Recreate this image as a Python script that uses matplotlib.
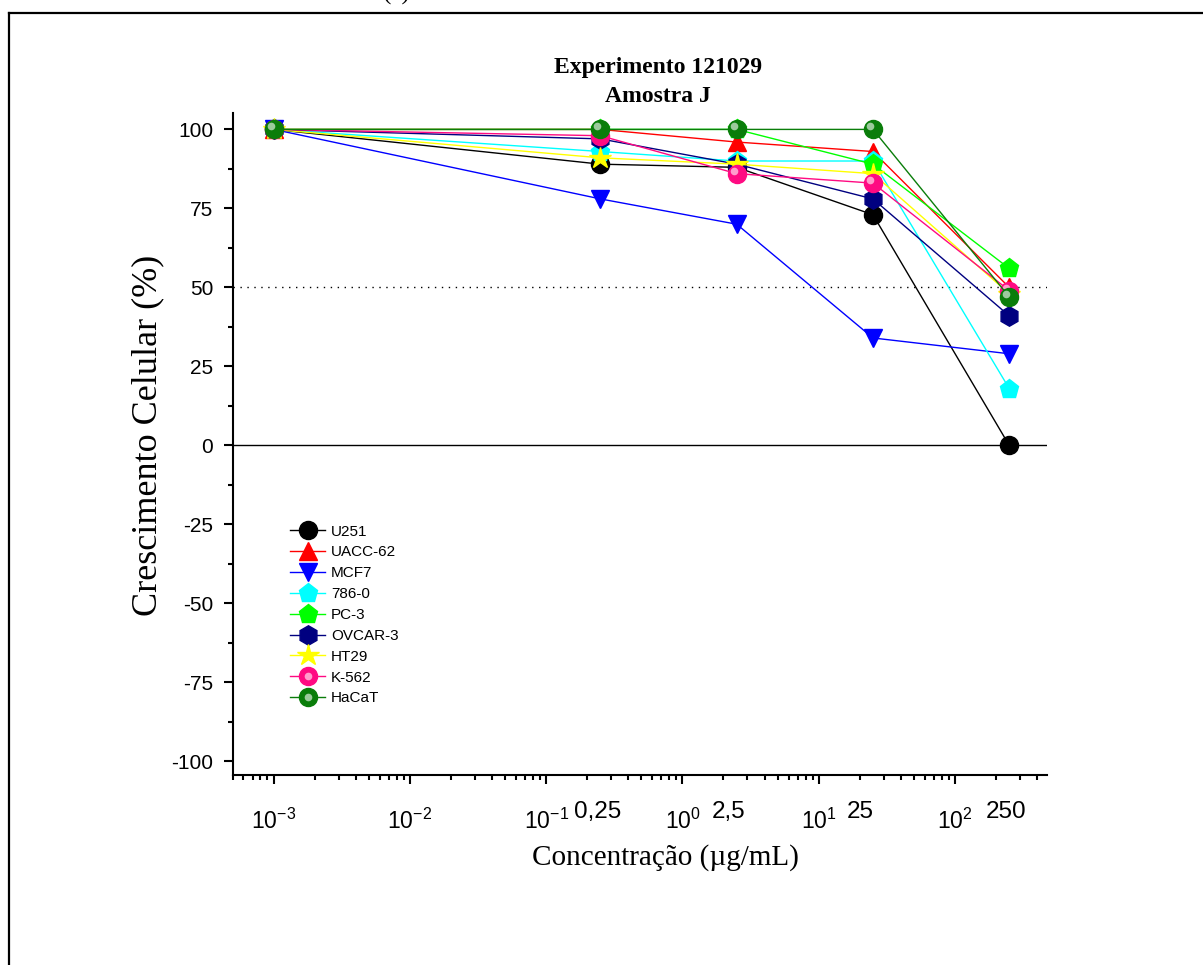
import numpy as np
import matplotlib as mpl
import matplotlib.pyplot as plt
from matplotlib import transforms
from matplotlib.lines import Line2D
from matplotlib.legend_handler import HandlerTuple
from matplotlib.ticker import LogLocator, MultipleLocator, NullFormatter

mpl.rcParams['font.family'] = ['Liberation Sans', 'DejaVu Sans']
mpl.rcParams['mathtext.fontset'] = 'custom'
mpl.rcParams['mathtext.rm'] = 'Liberation Sans'
mpl.rcParams['mathtext.it'] = 'Liberation Sans'
mpl.rcParams['mathtext.bf'] = 'Liberation Sans:bold'
mpl.rcParams['axes.unicode_minus'] = False

# concentrations (ug/mL) and growth (%) per cell line
conc = [0.001, 0.25, 2.5, 25, 250]
names = ['U251', 'UACC-62', 'MCF7', '786-0', 'PC-3', 'OVCAR-3', 'HT29', 'K-562', 'HaCaT']
u251   = [100, 89, 88, 73, 0]
uacc62 = [100, 100, 96, 93, 50]
mcf7   = [100, 78, 70, 34, 29]
c786   = [100, 93, 90, 90, 18]
pc3    = [100, 100, 100, 89, 56]
ovcar3 = [100, 97, 89, 78, 41]
ht29   = [100, 91, 89, 86, 48]
k562   = [100, 98, 86, 83, 49]
hacat  = [100, 100, 100, 100, 47]
series = [u251, uacc62, mcf7, c786, pc3, ovcar3, ht29, k562, hacat]

# labels written under the tested concentrations
conc_labels = ['0,25', '2,5', '25', '250']

colors  = ['black', 'red', 'blue', 'cyan', '#00ff00', '#000080', '#ffff00', '#ff0a82', '#0a7d0a']
markers = ['o', '^', 'v', 'p', 'p', 'h', '*', 'o', 'o']
msizes  = [13, 13, 13, 14, 14, 14, 16, 13, 13]
shiny   = [False, False, False, False, False, False, False, True, True]

fig = plt.figure(figsize=(12.03, 9.65), dpi=100)
ax = fig.add_axes([0.1934, 0.1969, 0.8703 - 0.1934, 0.8826 - 0.1969])

ax.axhline(0, color='black', lw=1, zorder=1)
ax.axhline(50, color='black', lw=1, ls=(0, (1, 4)), zorder=1)

hl = transforms.offset_copy(ax.transData, fig=fig, x=-3, y=3, units='dots')
handles = []
for vals, name, c, m, s, sh in zip(series, names, colors, markers, msizes, shiny):
    ln, = ax.plot(conc, vals, color=c, lw=1, marker=m, ms=s, mfc=c, mec=c,
                  label=name, clip_on=False, zorder=3)
    if sh:
        ax.plot(conc, vals, ls='none', marker='o', ms=5.5, mfc='white', mec='none',
                alpha=0.6, transform=hl, clip_on=False, zorder=3)
        glint = Line2D([], [], ls='none', marker='o', ms=5.5, mfc='white', mec='none', alpha=0.6)
        handles.append((ln, glint))
    else:
        handles.append(ln)

ax.set_xscale('log')
ax.set_xlim(5.0e-4, 473)
ax.set_ylim(-104.3, 105.1)
ax.set_yticks(np.arange(-100, 101, 25))
ax.yaxis.set_minor_locator(MultipleLocator(12.5))
ax.xaxis.set_major_locator(LogLocator(base=10, numticks=20))
ax.xaxis.set_minor_locator(LogLocator(base=10, subs=np.arange(2, 10), numticks=20))
ax.xaxis.set_minor_formatter(NullFormatter())

for side in ['top', 'right']:
    ax.spines[side].set_visible(False)
for side in ['left', 'bottom']:
    ax.spines[side].set_linewidth(1.5)
ax.tick_params(which='major', direction='out', length=6.5, width=1.5)
ax.tick_params(which='minor', direction='out', length=3.5, width=1.5)
ax.tick_params(axis='y', which='major', labelsize=15, pad=7.5)
ax.tick_params(axis='x', which='major', labelsize=16.5, pad=18)

shifts = [-3, -8, -13, -3]
for xv, lab, dx in zip(conc[1:], conc_labels, shifts):
    tr = transforms.offset_copy(ax.get_xaxis_transform(), fig=fig, x=dx, y=-2, units='dots')
    ax.text(xv, -0.036, lab, transform=tr, ha='center', va='top', fontsize=17.5)

leg = ax.legend(handles, names, handler_map={tuple: HandlerTuple(ndivide=1)},
                loc='upper left', bbox_to_anchor=(290 / 1203, 1 - 524.5 / 965),
                bbox_transform=fig.transFigure, frameon=False, fontsize=11,
                handlelength=2.3, handletextpad=0.4, labelspacing=0.45,
                borderpad=0, borderaxespad=0)

fig.text(658 / 1203, 1 - 67 / 965, 'Experimento 121029', family='Liberation Serif',
         weight='bold', fontsize=17, ha='center', va='center')
fig.text(658 / 1203, 1 - 97 / 965, 'Amostra J', family='Liberation Serif',
         weight='bold', fontsize=17, ha='center', va='center')
fig.text(148 / 1203, 1 - 435 / 965, 'Crescimento Celular (%)', family='Liberation Serif',
         fontsize=26, rotation=90, ha='center', va='center')
fig.text(665 / 1203, 1 - 858 / 965, 'Concentração (µg/mL)', family='Liberation Serif',
         fontsize=21, ha='center', va='center')
fig.text(397 / 1203, 1.0, '(c)', family='Liberation Serif', fontsize=18, ha='center', va='baseline')

# page frame
fig.add_artist(Line2D([8.5 / 1203, 8.5 / 1203], [0, 1 - 13.3 / 965], transform=fig.transFigure,
                      color='black', lw=1.6))
fig.add_artist(Line2D([8.5 / 1203, 1], [1 - 13.3 / 965, 1 - 13.3 / 965], transform=fig.transFigure,
                      color='black', lw=1.6))

fig.savefig('out.png', dpi=100)
